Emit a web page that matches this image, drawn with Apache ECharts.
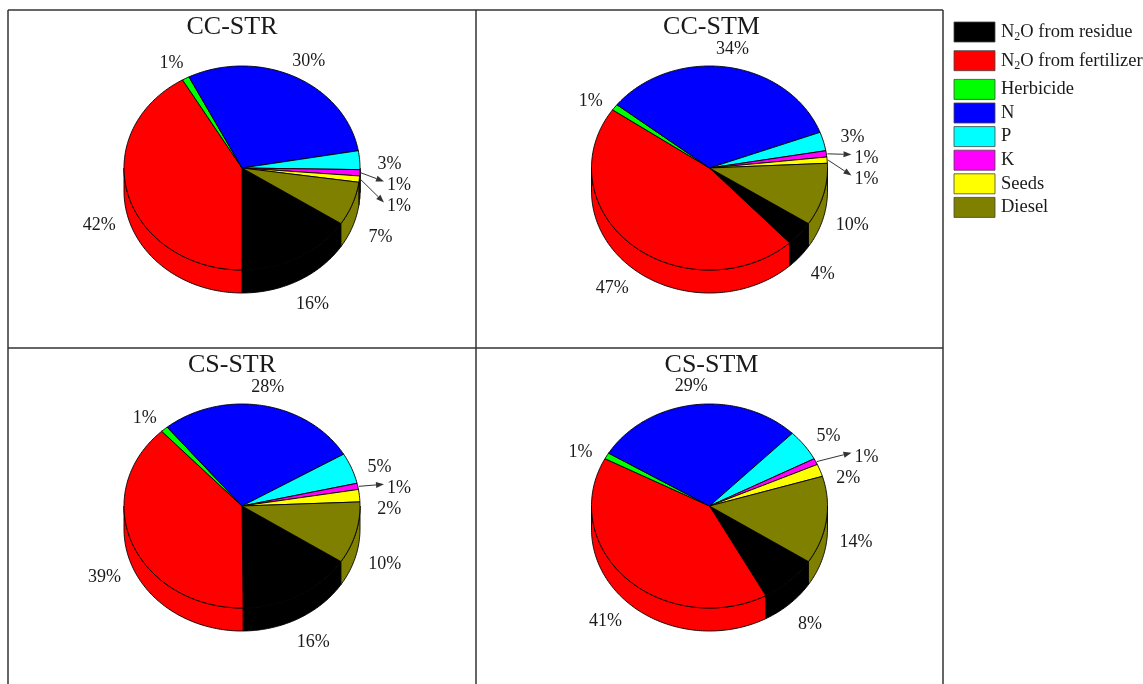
<!DOCTYPE html>
<html>
<head>
<meta charset="utf-8">
<script src="https://cdn.jsdelivr.net/npm/echarts@6/dist/echarts.min.js"></script>
<style>
  html, body { margin: 0; padding: 0; background: #ffffff; }
  #chart { width: 1143px; height: 684px; }
</style>
</head>
<body>
<div id="chart"></div>
<script>
// Emission sources (shares in %) for each cropping / tillage system
const categories = ['N2O from residue', 'N2O from fertilizer', 'Herbicide', 'N', 'P', 'K', 'Seeds', 'Diesel'];
const panelTitles = ['CC-STR', 'CC-STM', 'CS-STR', 'CS-STM'];
const ccStr = [16, 42, 1, 30, 3, 1, 1, 7];
const ccStm = [4, 47, 1, 34, 3, 1, 1, 10];
const csStr = [16, 39, 1, 28, 5, 1, 2, 10];
const csStm = [8, 41, 1, 29, 5, 1, 2, 14];
const panelValues = [ccStr, ccStm, csStr, csStm];

const sliceColors = ['#000000', '#ff0000', '#00ff00', '#0000ff', '#00ffff', '#ff00ff', '#ffff00', '#808000'];

// ---- layout ----
const FONT_FAMILY = '"Liberation Serif", "Times New Roman", serif';
const TEXT_COLOR = '#1a1a1a';
const frame = { left: 8, top: 10, midX: 476, right: 943, midY: 348, bottom: 684 };
const RX = 118, RY = 102, DEPTH = 23;
const START = 33;              // first slice starts 33 deg below 3 o'clock, runs clockwise
const LABEL_RX = 148, LABEL_RY_UP = 132, LABEL_RY_DOWN = 127, LABEL_DROP = 13, LABEL_GAP = 21;
const TITLE_DX = [-10, 2];

const rad = d => d * Math.PI / 180;

function panelCenter(i) {
  const col = i % 2, row = Math.floor(i / 2);
  const x0 = col ? frame.midX : frame.left;
  const x1 = col ? frame.right : frame.midX;
  const y0 = row ? frame.midY : frame.top;
  return { cx: (x0 + x1) / 2, cy: y0 + 158, top: y0, col };
}

function arc(c, a0, a1, dy) {
  const pts = [];
  const n = Math.max(2, Math.ceil(Math.abs(a1 - a0)));
  for (let k = 0; k <= n; k++) {
    const a = rad(a0 + (a1 - a0) * k / n);
    pts.push([c.cx + RX * Math.cos(a), c.cy + dy + RY * Math.sin(a)]);
  }
  return pts;
}

// angular layout of slices plus label placement for one panel
function layoutPanel(values, c) {
  const total = values.reduce((s, v) => s + v, 0);
  const cyMid = c.cy + DEPTH / 2;
  let a = START;
  const slices = values.map(v => {
    const a0 = a, a1 = a + v / total * 360;
    a = a1;
    const m = rad((a0 + a1) / 2);
    const cos = Math.cos(m), sin = Math.sin(m);
    // labels below the rim sit outside the side wall
    const ly = sin < 0
      ? cyMid + LABEL_RY_UP * sin
      : cyMid + LABEL_DROP * Math.min(1, sin / 0.25) + LABEL_RY_DOWN * sin;
    return { a0, a1, cos, sin, lx: c.cx + LABEL_RX * cos, ly, arrow: v <= 1 && cos > 0.5 };
  });
  // spread crowded labels on the right-hand side
  const right = slices.filter(s => s.cos > 0.5).sort((p, q) => p.ly - q.ly);
  for (let it = 0; it < 200; it++) {
    for (let i = 1; i < right.length; i++) {
      const d = right[i].ly - right[i - 1].ly;
      if (d < LABEL_GAP) {
        const o = (LABEL_GAP - d) / 2;
        right[i - 1].ly -= o;
        right[i].ly += o;
      }
    }
  }
  return slices;
}

function makeSeries(pi) {
  const values = panelValues[pi];
  const c = panelCenter(pi);
  const lay = layoutPanel(values, c);
  return {
    type: 'custom',
    name: panelTitles[pi],
    coordinateSystem: 'none',
    silent: true,
    animation: false,
    data: values.map((v, i) => ({ name: categories[i], value: v })),
    renderItem: function (params, api) {
      const i = params.dataIndex;
      const s = lay[i];
      const color = sliceColors[i];
      const children = [];
      // visible side wall (front half of the cylinder)
      [[0, 180], [360, 540]].forEach(([lo, hi]) => {
        const w0 = Math.max(s.a0, lo), w1 = Math.min(s.a1, hi);
        if (w1 > w0) {
          const pts = arc(c, w0, w1, 0).concat(arc(c, w1, w0, DEPTH));
          children.push({
            type: 'polygon', shape: { points: pts },
            style: { fill: color, stroke: '#000', lineWidth: 0.9, lineJoin: 'round' }
          });
        }
      });
      // top face
      children.push({
        type: 'polygon',
        shape: { points: [[c.cx, c.cy]].concat(arc(c, s.a0, s.a1, 0)) },
        style: { fill: color, stroke: '#000', lineWidth: 0.9, lineJoin: 'round' }
      });
      // value label
      const txt = api.value(0) + '%';
      if (s.arrow) {
        const tx = c.cx + RX + 27;
        const sx = c.cx + RX * s.cos + 1, sy = c.cy + RY * s.sin;
        const ex = tx - 3, ey = s.ly - 4;
        const ang = Math.atan2(ey - sy, ex - sx);
        const hl = 8, hw = 3;
        const bx = ex - hl * Math.cos(ang), by = ey - hl * Math.sin(ang);
        children.push({
          type: 'line', shape: { x1: sx, y1: sy, x2: bx, y2: by },
          style: { stroke: '#333', lineWidth: 1 }
        });
        children.push({
          type: 'polygon',
          shape: { points: [[ex, ey],
            [bx + hw * Math.sin(ang), by - hw * Math.cos(ang)],
            [bx - hw * Math.sin(ang), by + hw * Math.cos(ang)]] },
          style: { fill: '#333' }
        });
        children.push({
          type: 'text',
          style: { text: txt, x: tx, y: s.ly, align: 'left', verticalAlign: 'middle',
                   font: '18px ' + FONT_FAMILY, fill: TEXT_COLOR }
        });
      } else {
        children.push({
          type: 'text',
          style: { text: txt, x: s.lx, y: s.ly, align: 'center', verticalAlign: 'middle',
                   font: '18px ' + FONT_FAMILY, fill: TEXT_COLOR }
        });
      }
      return { type: 'group', children };
    }
  };
}

// frame lines, panel titles and legend
const graphics = [];
const frameStyle = { stroke: '#333', lineWidth: 1.5 };
[
  [frame.left, frame.top, frame.right, frame.top],
  [frame.left, frame.midY, frame.right, frame.midY],
  [frame.left, frame.top, frame.left, frame.bottom],
  [frame.midX, frame.top, frame.midX, frame.bottom],
  [frame.right, frame.top, frame.right, frame.bottom]
].forEach(([x1, y1, x2, y2]) => graphics.push({
  type: 'line', silent: true, shape: { x1, y1, x2, y2 }, style: frameStyle
}));

panelTitles.forEach((t, i) => {
  const c = panelCenter(i);
  graphics.push({
    type: 'text', silent: true,
    style: { text: t, x: c.cx + TITLE_DX[c.col], y: c.top + 17, align: 'center', verticalAlign: 'middle',
             font: '26px ' + FONT_FAMILY, fill: TEXT_COLOR }
  });
});

let legendY = 22;
categories.forEach((name, i) => {
  const hasSub = name.startsWith('N2O');
  graphics.push({
    type: 'rect', silent: true,
    shape: { x: 954, y: legendY, width: 41, height: 20 },
    style: { fill: sliceColors[i], stroke: '#444', lineWidth: 0.8 }
  });
  const text = hasSub ? '{t|N}{s|2}{t|O' + name.slice(3) + '}' : '{t|' + name + '}';
  graphics.push({
    type: 'text', silent: true,
    style: {
      text, x: 1001, y: legendY + 10, align: 'left', verticalAlign: 'middle',
      fill: TEXT_COLOR,
      font: '18.5px ' + FONT_FAMILY,
      rich: {
        t: { fontSize: 18.5, fontFamily: FONT_FAMILY, fill: TEXT_COLOR, lineHeight: 22, verticalAlign: 'middle' },
        s: { fontSize: 12, fontFamily: FONT_FAMILY, fill: TEXT_COLOR, lineHeight: 12, verticalAlign: 'bottom' }
      }
    }
  });
  legendY += hasSub ? 28.7 : 23.6;
});

const chart = echarts.init(document.getElementById('chart'), null, { renderer: 'canvas' });
chart.setOption({
  backgroundColor: '#ffffff',
  animation: false,
  series: panelValues.map((_, i) => makeSeries(i)),
  graphic: graphics
});
</script>
</body>
</html>
